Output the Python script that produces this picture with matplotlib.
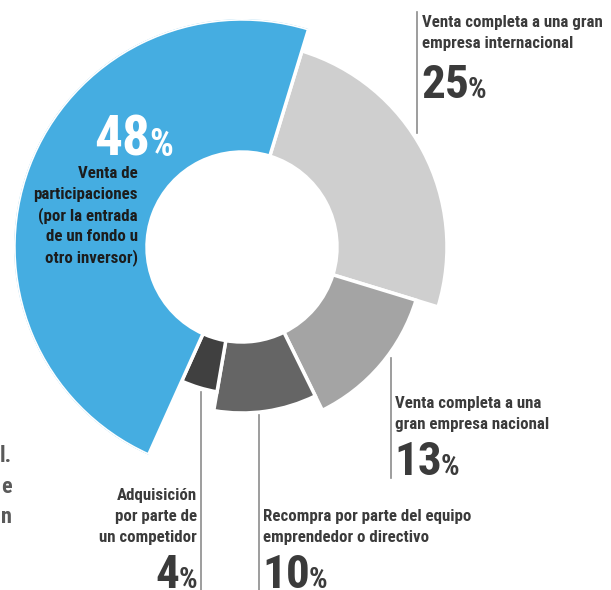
import numpy as np
import matplotlib
matplotlib.use("Agg")
import matplotlib.pyplot as plt
from matplotlib import font_manager

# data, clockwise from the top
values = [25, 13, 10, 4, 48]
labels = [
    "Venta completa a una gran\nempresa internacional",
    "Venta completa a una\ngran empresa nacional",
    "Recompra por parte del equipo\nemprendedor o directivo",
    "Adquisición\npor parte de\nun competidor",
    "Venta de\nparticipaciones\n(por la entrada\nde un fondo u\notro inversor)",
]

# styles
colors = ["#cfcfcf", "#a4a4a4", "#656565", "#404040", "#45ade1"]
outer_r = [205, 182, 166, 147, 228]
inner_r = 95
start_deg = 17

names = {f.name for f in font_manager.fontManager.ttflist}
cands = ["Liberation Sans Narrow", "Roboto Condensed", "Open Sans Condensed",
         "Arial Narrow", "Roboto"]
FONT = next((c for c in cands if c in names), "DejaVu Sans")
plt.rcParams["font.family"] = [FONT, "DejaVu Sans"]

W, H = 611, 590
fig = plt.figure(figsize=(W / 100, H / 100), dpi=100)

# donut as polar bars, centre at (242, 247) px
cx, cy, R = 242, 247, 228
ax = fig.add_axes([(cx - R) / W, (H - cy - R) / H, 2 * R / W, 2 * R / H],
                  projection="polar")
ax.set_theta_zero_location("N")
ax.set_theta_direction(-1)
widths = np.array(values) / sum(values) * 2 * np.pi
lefts = np.deg2rad(start_deg) + np.concatenate([[0], np.cumsum(widths)[:-1]])
ax.bar(lefts, np.array(outer_r) - inner_r, width=widths, bottom=inner_r,
       align="edge", color=colors, edgecolor="white", linewidth=2.5)
ax.set_ylim(0, R)
ax.axis("off")

# overlay in pixel coordinates for labels
ov = fig.add_axes([0, 0, 1, 1])
ov.set_xlim(0, W)
ov.set_ylim(H, 0)
ov.axis("off")
ov.patch.set_visible(False)

TXT = "#3b3b3b"
LINE = "#8c8c8c"
renderer = fig.canvas.get_renderer()


def text_w(t):
    return t.get_window_extent(renderer=renderer).width


# fit label size so the first line of the 25 % label is ~181 px wide
probe = ov.text(0, 0, labels[0].split("\n")[0], fontsize=12, fontweight="bold")
LSIZE = 12 * 181 / text_w(probe)
probe.remove()


def lines_block(x, y0, txt, ha, color=TXT, gap=21):
    for i, s in enumerate(txt.split("\n")):
        ov.text(x, y0 + i * gap, s, ha=ha, va="baseline", fontsize=LSIZE,
                fontweight="bold", color=color)


def number(x, y, val, ha, color=TXT, big=34, small=21):
    if ha == "left":
        t = ov.text(x, y, str(val), ha="left", va="baseline", fontsize=big,
                    fontweight="bold", color=color)
        ov.text(x + text_w(t) - 1, y, "%", ha="left", va="baseline",
                fontsize=small, fontweight="bold", color=color)
    else:
        p = ov.text(x, y, "%", ha="right", va="baseline", fontsize=small,
                    fontweight="bold", color=color)
        ov.text(x - text_w(p) + 1, y, str(val), ha="right", va="baseline",
                fontsize=big, fontweight="bold", color=color)


# 25 %
ov.plot([417, 417], [12, 133], color=LINE, lw=1.2)
lines_block(422, 27, labels[0], "left")
number(421, 98, values[0], "left")

# 13 %
ov.plot([391, 391], [358, 478], color=LINE, lw=1.2)
lines_block(395, 408, labels[1], "left")
number(394, 475, values[1], "left")

# 10 %
ov.plot([259, 259], [415, 590], color=LINE, lw=1.2)
lines_block(263, 521, labels[2], "left")
number(262, 588, values[2], "left")

# 4 %
ov.plot([201, 201], [392, 590], color=LINE, lw=1.2)
lines_block(197, 500, labels[3], "right")
number(197, 588, values[3], "right")

# 48 % inside the blue segment
number(94, 156, values[4], "left", color="white", big=40, small=27)
lines_block(138, 178, labels[4], "right", color="#1c1c1c")

# clipped text at the left edge of the page
for y, s in [(462, "l."), (493, "e"), (523, "n")]:
    ov.text(12, y, s, ha="right", va="baseline", fontsize=16,
            fontweight="bold", color="#5a5a5a")

fig.savefig("out.png", dpi=100)
